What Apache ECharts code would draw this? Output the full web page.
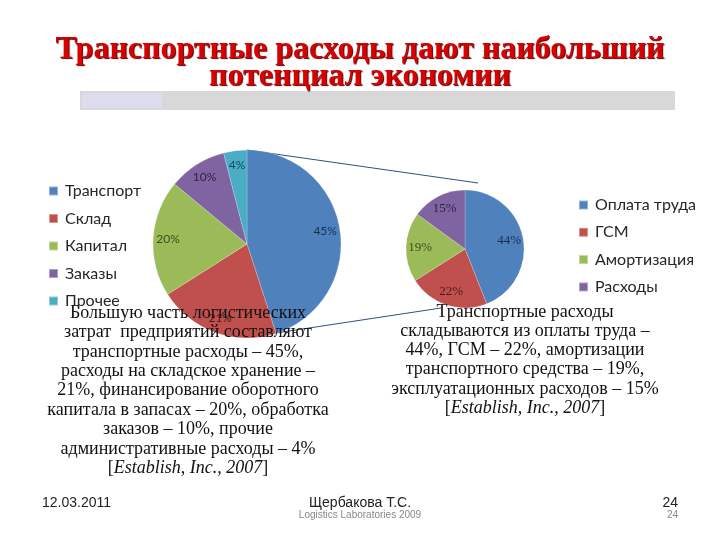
<!DOCTYPE html>
<html><head><meta charset="utf-8">
<script src="https://cdn.jsdelivr.net/npm/echarts@6/dist/echarts.min.js"></script>
<style>html,body{margin:0;padding:0;background:#fff}#c{width:720px;height:540px}</style>
</head><body><div id="c"></div>
<script>
var leftCategories = ['Транспорт', 'Склад', 'Капитал', 'Заказы', 'Прочее'];
var leftValues = [45, 21, 20, 10, 4];
var rightCategories = ['Оплата труда', 'ГСМ', 'Амортизация', 'Расходы'];
var rightValues = [44, 22, 19, 15];
var titleLines = ['Транспортные расходы дают наибольший', 'потенциал экономии'];
var leftText = ['Большую часть логистических', 'затрат  предприятий составляют', 'транспортные расходы – 45%,', 'расходы на складское хранение –', '21%, финансирование оборотного', 'капитала в запасах – 20%, обработка', 'заказов – 10%, прочие', 'административные расходы – 4%'];
var rightText = ['Транспортные расходы', 'складываются из оплаты труда –', '44%, ГСМ – 22%, амортизации', 'транспортного средства – 19%,', 'эксплуатационных расходов – 15%'];
var citation = ['[', 'Establish, Inc., 2007', ']'];
var footer = {date: '12.03.2011', author: 'Щербакова Т.С.', sub: 'Logistics Laboratories 2009', page: '24'};

var leftColors = ['#4f81bd', '#c0504d', '#9bbb59', '#8064a2', '#4bacc6'];
var leftLabelColors = ['#17304f', '#4f1a18', '#3c4d1c', '#30233f', '#144a57'];
var rightColors = ['#4f81bd', '#c0504d', '#9bbb59', '#8064a2'];
var rightLabelColors = ['#17304f', '#4f1a18', '#3c4d1c', '#30233f'];

var LC = [247, 244], LR = 94;
var RC = [465, 249], RR = 59;

function mk(names, vals, colors) {
  return names.map(function (n, i) { return {name: n, value: vals[i], itemStyle: {color: colors[i]}}; });
}
function mkLbl(names, vals, lc) {
  return names.map(function (n, i) { return {name: n, value: vals[i], label: {color: lc[i]}}; });
}

var chart = echarts.init(document.getElementById('c'));
var g = [];
g.push({type: 'rect', shape: {x: 80, y: 91, width: 595, height: 19}, style: {fill: '#d8d8d8'}, z: 1});
g.push({type: 'rect', shape: {x: 82, y: 93, width: 80, height: 15}, style: {fill: '#dcdcec'}, z: 1});
g.push({type: 'text', x: 360, y: 50, z: 5, style: {text: titleLines[0], fill: '#d80000', font: 'bold 32px "Liberation Serif"', align: 'center', verticalAlign: 'middle', textShadowColor: '#500', textShadowOffsetX: 1, textShadowOffsetY: 1, textShadowBlur: 1}});
g.push({type: 'text', x: 360, y: 77, z: 5, style: {text: titleLines[1], fill: '#d80000', font: 'bold 32px "Liberation Serif"', align: 'center', verticalAlign: 'middle', textShadowColor: '#500', textShadowOffsetX: 1, textShadowOffsetY: 1, textShadowBlur: 1}});
// connector lines
g.push({type: 'line', shape: {x1: LC[0], y1: LC[1] - LR, x2: 478, y2: 183}, style: {stroke: '#2f4f7f', lineWidth: 1}, z: 0});
g.push({type: 'line', shape: {x1: 276, y1: 333, x2: 441, y2: 308}, style: {stroke: '#2f4f7f', lineWidth: 1}, z: 0});
var bodyFont = '18px "Liberation Serif"';
var italFont = 'italic 18px "Liberation Serif"';
leftText.forEach(function (t, i) {
  g.push({type: 'text', x: 188, y: 313 + i * 19.4, z: 20, style: {text: t, fill: '#111', font: bodyFont, align: 'center', verticalAlign: 'middle'}});
});
g.push({type: 'text', x: 188, y: 468, z: 20, style: {text: '{n|' + citation[0] + '}{i|' + citation[1] + '}{n|' + citation[2] + '}', align: 'center', verticalAlign: 'middle', rich: {n: {font: bodyFont, fill: '#111'}, i: {font: italFont, fill: '#111'}}}});
rightText.forEach(function (t, i) {
  g.push({type: 'text', x: 525, y: 312 + i * 19.2, z: 20, style: {text: t, fill: '#111', font: bodyFont, align: 'center', verticalAlign: 'middle'}});
});
g.push({type: 'text', x: 525, y: 408, z: 20, style: {text: '{n|' + citation[0] + '}{i|' + citation[1] + '}{n|' + citation[2] + '}', align: 'center', verticalAlign: 'middle', rich: {n: {font: bodyFont, fill: '#111'}, i: {font: italFont, fill: '#111'}}}});
// footer
g.push({type: 'text', x: 42, y: 503, z: 20, style: {text: footer.date, fill: '#222', font: '14px "Liberation Sans"', align: 'left', verticalAlign: 'middle'}});
g.push({type: 'text', x: 360, y: 503, z: 20, style: {text: footer.author, fill: '#222', font: '14px "Liberation Sans"', align: 'center', verticalAlign: 'middle'}});
g.push({type: 'text', x: 360, y: 515, z: 20, style: {text: footer.sub, fill: '#888', font: '10px "Liberation Sans"', align: 'center', verticalAlign: 'middle'}});
g.push({type: 'text', x: 678, y: 503, z: 20, style: {text: footer.page, fill: '#222', font: '14px "Liberation Sans"', align: 'right', verticalAlign: 'middle'}});
g.push({type: 'text', x: 678, y: 515, z: 20, style: {text: footer.page, fill: '#888', font: '10px "Liberation Sans"', align: 'right', verticalAlign: 'middle'}});

var legendText = {fontFamily: 'Lato', fontSize: 16, color: '#262626', lineHeight: 18, padding: [0, 0, 0, 2]};
chart.setOption({
  animation: false,
  graphic: g,
  legend: [
    {data: leftCategories, orient: 'vertical', left: 48, top: 182, padding: 0, icon: 'rect', itemWidth: 9, itemHeight: 9, itemGap: 9.5, textStyle: legendText, selectedMode: false},
    {data: rightCategories, orient: 'vertical', left: 578, top: 196, padding: 0, icon: 'rect', itemWidth: 9, itemHeight: 9, itemGap: 9.3, textStyle: legendText, selectedMode: false}
  ],
  series: [
    {type: 'pie', center: LC, radius: LR, startAngle: 90, clockwise: true, data: mk(leftCategories, leftValues, leftColors), label: {show: false}, labelLine: {show: false}, silent: true, z: 2,
     itemStyle: {borderColor: 'rgba(255,255,255,0.4)', borderWidth: 0.5}},
    {type: 'pie', center: LC, radius: [LR * 0.62, LR], startAngle: 90, clockwise: true, data: mkLbl(leftCategories, leftValues, leftLabelColors), itemStyle: {color: 'rgba(0,0,0,0)'}, legendHoverLink: false, silent: true, z: 3,
     label: {show: true, position: 'inside', formatter: '{c}%', fontFamily: 'Lato', fontSize: 12}, labelLine: {show: false}},
    {type: 'pie', center: RC, radius: RR, startAngle: 90, clockwise: true, data: mk(rightCategories, rightValues, rightColors), label: {show: false}, labelLine: {show: false}, silent: true, z: 2,
     itemStyle: {borderColor: 'rgba(255,255,255,0.4)', borderWidth: 0.5}},
    {type: 'pie', center: RC, radius: [RR * 0.42, RR], startAngle: 90, clockwise: true, data: mkLbl(rightCategories, rightValues, rightLabelColors), itemStyle: {color: 'rgba(0,0,0,0)'}, legendHoverLink: false, silent: true, z: 3,
     label: {show: true, position: 'inside', formatter: '{c}%', fontFamily: 'Liberation Serif', fontSize: 13}, labelLine: {show: false}}
  ]
});
</script></body></html>
